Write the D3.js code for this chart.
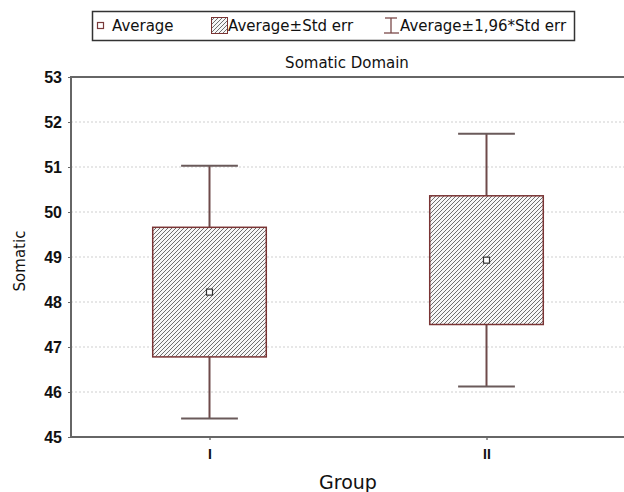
<!DOCTYPE html>
<html>
<head>
<meta charset="utf-8">
<script src="https://cdn.jsdelivr.net/npm/d3@7"></script>
<style>
  body { margin: 0; background: #fff; }
  text { font-family: "DejaVu Sans", Arial, sans-serif; }
</style>
</head>
<body>
<div id="chart"></div>
<script>
var groups = ["I", "II"];
var average = [48.22, 48.93];
var seLow = [46.78, 47.50];
var seHigh = [49.66, 50.36];
var ciLow = [45.41, 46.12];
var ciHigh = [51.03, 51.74];
var yTicks = [45, 46, 47, 48, 49, 50, 51, 52, 53];

var width = 624, height = 492;
var margin = {top: 77, right: 0, bottom: 55, left: 71};
var plotW = 625 - margin.left, plotH = height - margin.top - margin.bottom;

var boxColor = "#7a3434";
var frameColor = "#666";

var data = groups.map(function (g, i) {
    return {group: g, avg: average[i], lo: seLow[i], hi: seHigh[i], ciLo: ciLow[i], ciHi: ciHigh[i]};
});

var svg = d3.select("#chart").append("svg")
    .attr("width", width)
    .attr("height", height);

var defs = svg.append("defs");
var pat = defs.append("pattern")
    .attr("id", "hatch")
    .attr("patternUnits", "userSpaceOnUse")
    .attr("width", 4)
    .attr("height", 4);
pat.append("rect").attr("width", 4).attr("height", 4).attr("fill", "#f7f7f7");
pat.append("path")
    .attr("d", "M-1,1 l2,-2 M0,4 l4,-4 M3,5 l2,-2")
    .attr("stroke", "#606060")
    .attr("stroke-width", 0.9);

var x = d3.scalePoint()
    .domain(groups)
    .range([0, plotW])
    .padding(0.5);

var y = d3.scaleLinear()
    .domain([45, 53])
    .range([plotH, 0]);

var main = svg.append("g")
    .attr("transform", "translate(" + margin.left + "," + margin.top + ")");

// grid
main.append("g")
    .selectAll("line")
    .data(yTicks.slice(1, -1))
    .enter().append("line")
    .attr("x1", 0)
    .attr("x2", plotW)
    .attr("y1", function (d) { return y(d); })
    .attr("y2", function (d) { return y(d); })
    .attr("stroke", "#cfcfcf")
    .attr("stroke-width", 1)
    .attr("stroke-dasharray", "2,2");

// y axis
var yAxis = main.append("g")
    .call(d3.axisLeft(y).tickValues(yTicks).tickSize(3).tickFormat(d3.format("d")));
yAxis.select(".domain").remove();
yAxis.selectAll(".tick line").attr("stroke", frameColor);
yAxis.selectAll(".tick text")
    .attr("x", -9)
    .attr("fill", "#111")
    .style("font-family", "'Liberation Sans', Arial, sans-serif")
    .style("font-size", "16px")
    .style("font-weight", "bold");

// x axis
var xAxis = main.append("g")
    .attr("transform", "translate(0," + plotH + ")")
    .call(d3.axisBottom(x).tickSize(3));
xAxis.select(".domain").remove();
xAxis.selectAll(".tick line").attr("stroke", "#333");
xAxis.selectAll(".tick text")
    .attr("y", 12)
    .attr("fill", "#111")
    .style("font-family", "'Liberation Sans', Arial, sans-serif")
    .style("font-size", "14px")
    .style("font-weight", "bold");

// frame
main.append("rect")
    .attr("x", 0)
    .attr("y", 0)
    .attr("width", plotW)
    .attr("height", plotH)
    .attr("fill", "none")
    .attr("stroke", frameColor)
    .attr("stroke-width", 2);

var boxW = x.step() * 0.41;
var capW = boxW / 2;

var g = main.append("g");

// whiskers
g.selectAll(".whisker")
    .data(data)
    .enter().append("line")
    .attr("class", "whisker")
    .attr("x1", function (d) { return x(d.group); })
    .attr("x2", function (d) { return x(d.group); })
    .attr("y1", function (d) { return y(d.ciLo); })
    .attr("y2", function (d) { return y(d.ciHi); })
    .attr("stroke", "#6e4a4a")
    .attr("stroke-width", 2);

["ciLo", "ciHi"].forEach(function (k) {
    g.selectAll(".cap-" + k)
        .data(data)
        .enter().append("line")
        .attr("x1", function (d) { return x(d.group) - capW / 2; })
        .attr("x2", function (d) { return x(d.group) + capW / 2; })
        .attr("y1", function (d) { return y(d[k]); })
        .attr("y2", function (d) { return y(d[k]); })
        .attr("stroke", "#6a5a5a")
        .attr("stroke-width", 2);
});

// boxes
g.selectAll(".box")
    .data(data)
    .enter().append("rect")
    .attr("class", "box")
    .attr("x", function (d) { return x(d.group) - boxW / 2; })
    .attr("width", boxW)
    .attr("y", function (d) { return y(d.hi); })
    .attr("height", function (d) { return y(d.lo) - y(d.hi); })
    .attr("fill", "url(#hatch)")
    .attr("stroke", boxColor)
    .attr("stroke-width", 1.5);

// average markers
g.selectAll(".avg")
    .data(data)
    .enter().append("rect")
    .attr("x", function (d) { return x(d.group) - 3; })
    .attr("y", function (d) { return y(d.avg) - 3; })
    .attr("width", 6)
    .attr("height", 6)
    .attr("fill", "#fff")
    .attr("stroke", "#333")
    .attr("stroke-width", 1.2);

// titles
svg.append("text")
    .attr("x", 347)
    .attr("y", 68)
    .attr("text-anchor", "middle")
    .attr("fill", "#111")
    .style("font-size", "15px")
    .text("Somatic Domain");

svg.append("text")
    .attr("transform", "translate(25," + (margin.top + plotH / 2 + 4) + ") rotate(-90)")
    .attr("text-anchor", "middle")
    .attr("fill", "#111")
    .style("font-size", "15px")
    .text("Somatic");

svg.append("text")
    .attr("x", 348)
    .attr("y", 489)
    .attr("text-anchor", "middle")
    .attr("fill", "#111")
    .style("font-size", "19px")
    .text("Group");

// legend
var legend = svg.append("g");
legend.append("rect")
    .attr("x", 92.5)
    .attr("y", 11.5)
    .attr("width", 482)
    .attr("height", 29)
    .attr("fill", "#fff")
    .attr("stroke", "#333")
    .attr("stroke-width", 1.5);

legend.append("rect")
    .attr("x", 97.5).attr("y", 22.5).attr("width", 6).attr("height", 6)
    .attr("fill", "#fff").attr("stroke", "#7a3a3a").attr("stroke-width", 1.2);
legend.append("text")
    .attr("x", 112).attr("y", 31)
    .style("font-size", "15px").attr("fill", "#111")
    .text("Average");

legend.append("rect")
    .attr("x", 211.5).attr("y", 17.5).attr("width", 16).attr("height", 16)
    .attr("fill", "url(#hatch)").attr("stroke", boxColor).attr("stroke-width", 1);
legend.append("text")
    .attr("x", 228).attr("y", 31)
    .style("font-size", "15px").attr("fill", "#111")
    .text("Average±Std err");

var ib = legend.append("g").attr("stroke", "#7a4a4a").attr("stroke-width", 1.3);
ib.append("line").attr("x1", 385).attr("x2", 397).attr("y1", 18).attr("y2", 18);
ib.append("line").attr("x1", 391).attr("x2", 391).attr("y1", 18).attr("y2", 33);
ib.append("line").attr("x1", 384).attr("x2", 399).attr("y1", 33).attr("y2", 33);
legend.append("text")
    .attr("x", 400).attr("y", 31)
    .style("font-size", "15px").attr("fill", "#111")
    .text("Average±1,96*Std err");
</script>
</body>
</html>
